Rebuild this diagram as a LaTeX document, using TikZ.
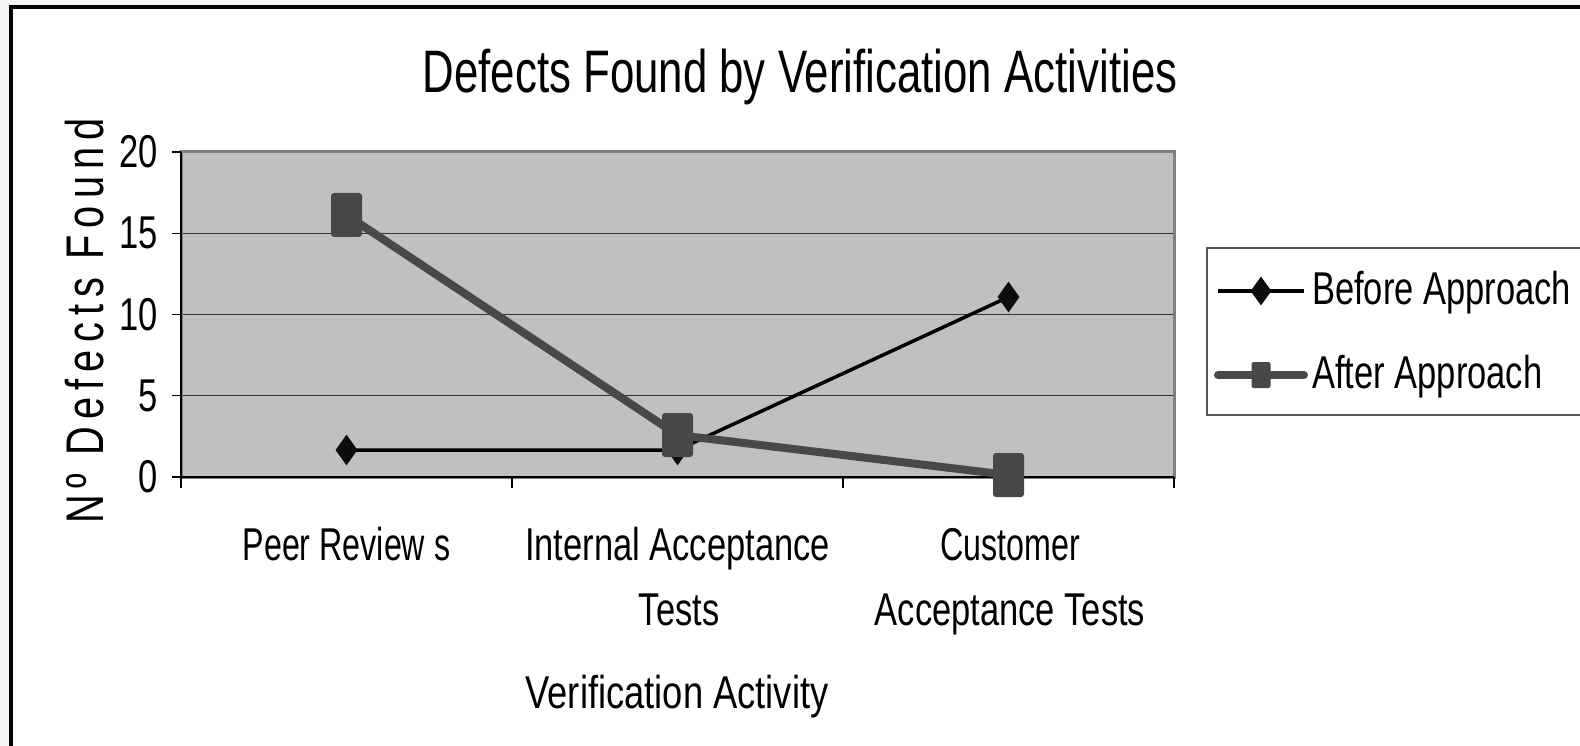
\documentclass[tikz,border=0pt]{standalone}
\usepackage{fontspec}
\usetikzlibrary{shapes.geometric}
\newfontfamily\chartfont[FakeStretch=0.75]{Liberation Sans}
\newfontfamily\chartfontnarrow[FakeStretch=0.70]{Liberation Sans}
\newfontfamily\chartfontwide[FakeStretch=0.79]{Liberation Sans}
\newfontfamily\charttitlefont[FakeStretch=0.73]{Liberation Sans}
\newfontfamily\yaxisfont[FakeStretch=0.75,LetterSpace=13.5]{Liberation Sans}
\definecolor{outsidebg}{HTML}{F5F5F5}
\definecolor{plotfill}{HTML}{C0C0C0}
\definecolor{plotedge}{HTML}{808080}
\definecolor{gridcol}{HTML}{333333}
\definecolor{aftercol}{HTML}{484848}
\definecolor{legedge}{HTML}{555555}
\tikzset{
  lbl/.style={inner sep=0pt, font=\chartfont\fontsize{46}{65}\selectfont},
  lblnarrow/.style={inner sep=0pt, font=\chartfontnarrow\fontsize{46}{65}\selectfont},
  lblwide/.style={inner sep=0pt, font=\chartfontwide\fontsize{46}{65}\selectfont},
  ticklbl/.style={inner sep=0pt, anchor=east, font=\chartfont\fontsize{46}{50}\selectfont},
  gridline/.style={draw=gridcol, line width=1.3pt},
  tickmark/.style={draw=black, line width=1.3pt},
  beforeline/.style={draw=black, line width=3.5pt, line join=round},
  afterline/.style={draw=aftercol, line width=8pt, line join=round, line cap=round},
  diamondmark/.style={diamond, fill=black!95, inner sep=0pt, minimum width=22pt, minimum height=31pt},
  squaremark/.style={rectangle, fill=aftercol, inner sep=0pt, minimum width=31pt, minimum height=44pt, rounded corners=3pt},
}
\begin{document}
\begin{tikzpicture}[x=1pt,y=-1pt]
\useasboundingbox (0,0) rectangle (1580,746);
\clip (0,0) rectangle (1580,746);
\fill[outsidebg] (0,0) rectangle (1580,746);
\draw[line width=4pt, fill=white] (11,7.5) rectangle (1620,780);
% title
\node[inner sep=0pt, anchor=base, font=\charttitlefont\fontsize{60}{70}\selectfont] (title) at (800,93) {Defects Found by Verification Activities};
% plot area
\fill[plotfill] (181,152) rectangle (1174,477);
\foreach \yy in {233.25,314.5,395.75} \draw[gridline] (181,\yy) -- (1174,\yy);
\draw[draw=plotedge, line width=3pt] (181,477) -- (181,152) -- (1174,152) -- (1174,477) -- cycle;
\draw[draw=black, line width=1.3pt] (181,152) -- (181,477) -- (1174,477);
% y ticks
\foreach \yy/\lab in {152/20,233.25/15,314.5/10,395.75/5,477/0}{
  \draw[tickmark] (172,\yy) -- (181,\yy);
  \node[ticklbl] at (158,\yy) {\lab};
}
% x ticks
\foreach \xx in {181,512,843,1174} \draw[tickmark] (\xx,477) -- (\xx,488);
% category labels
\node[lblnarrow, anchor=base] (c1) at (346.5,560) {Peer Review s};
\node[lbl, anchor=base] (c2a) at (677.5,560) {Internal Acceptance};
\node[lbl, anchor=base] (c2b) at (679,625) {Tests};
\node[lblnarrow, anchor=base] (c3a) at (1010,560) {Customer};
\node[lbl, anchor=base] (c3b) at (1010,625) {Acceptance Tests};
\node[lblwide, anchor=base] (xtitle) at (677,708) {Verification Activity};
\node[inner sep=0pt, anchor=base, rotate=90, font=\yaxisfont\fontsize{53}{60}\selectfont] (ytitle) at (103,321) {Nº Defects Found};
% data
\coordinate (b1) at (346.5,450);
\coordinate (b2) at (677.5,450);
\coordinate (b3) at (1008.5,297);
\coordinate (a1) at (346.5,215);
\coordinate (a2) at (677.5,435);
\coordinate (a3) at (1008.5,475);
\draw[beforeline] (b1) -- (b2) -- (b3);
\node[diamondmark] (mb1) at (b1) {};
\node[diamondmark] (mb2) at (b2) {};
\node[diamondmark] (mb3) at (b3) {};
\draw[afterline] (a1) -- (a2) -- (a3);
\node[squaremark] (ma1) at (a1) {};
\node[squaremark] (ma2) at (a2) {};
\node[squaremark] (ma3) at (a3) {};
% legend
\draw[draw=legedge, line width=1.5pt, fill=white] (1207,248) rectangle (1620,415);
\coordinate (l1a) at (1218,291);
\coordinate (l1b) at (1304,291);
\coordinate (l2a) at (1218,375);
\coordinate (l2b) at (1304,375);
\draw[beforeline] (l1a) -- (l1b);
\node[diamondmark, minimum width=21pt, minimum height=29pt] (lm1) at (1261,291) {};
\draw[afterline] (l2a) -- (l2b);
\node[squaremark, minimum width=19pt, minimum height=26pt, rounded corners=2pt] (lm2) at (1261,375) {};
\node[lbl, anchor=base west] (leg1) at (1312,305) {Before Approach};
\node[lbl, anchor=base west] (leg2) at (1312,388) {After Approach};
\end{tikzpicture}
\end{document}
